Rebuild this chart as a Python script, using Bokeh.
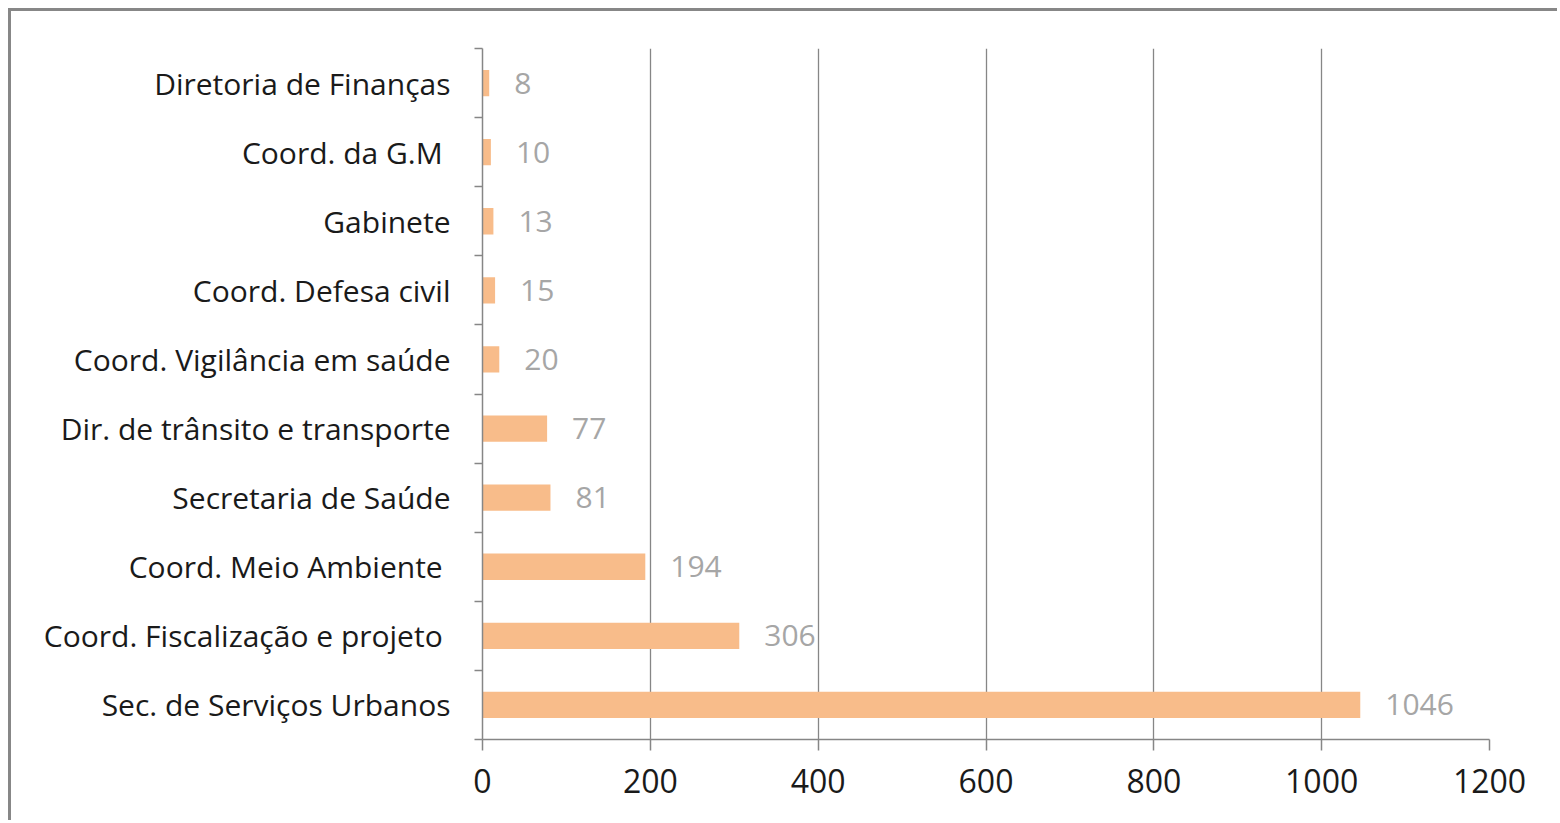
from bokeh.plotting import figure
from bokeh.models import Range1d, FixedTicker, ColumnDataSource
from bokeh.embed import file_html
from bokeh.resources import INLINE
from bokeh.core.properties import value

categories = ["Sec. de Serviços Urbanos", "Coord. Fiscalização  e projeto", "Coord. Meio Ambiente ",
              "Secretaria de Saúde", "Dir. de trânsito e transporte", "Coord. Vigilância em saúde",
              "Coord. Defesa civil", "Gabinete", "Coord. da G.M ", "Diretoria de Finanças"]
values = [1046, 306, 194, 81, 77, 20, 15, 13, 10, 8]
x_ticks = [0, 200, 400, 600, 800, 1000, 1200]

n = len(categories)
ypos = [i + 0.5 for i in range(n)]
src = ColumnDataSource(dict(y=ypos, v=values, lab=[str(v) for v in values]))

off = 11  # border offset
p = figure(width=1560 - off, height=823 - off, output_backend="svg", toolbar_location=None,
           x_range=Range1d(0, 1200), y_range=Range1d(0, n),
           min_border_left=482 - off, min_border_right=71, min_border_top=48 - off, min_border_bottom=84)
p.styles = {"border-top": "3px solid #878787", "border-left": "3px solid #878787",
            "margin-top": "8px", "margin-left": "8px"}
p.outline_line_color = None
p.background_fill_color = "white"
p.border_fill_color = "white"

p.hbar(y="y", right="v", left=0, height=0.38, source=src, color="#F8BC8A", line_color=None)
p.text(x="v", y="y", text="lab", source=src, x_offset=25, text_align="left", text_baseline="middle",
       text_color="#A6A6A6", text_font=value("Open Sans"), text_font_size="30px")

# x axis
xa = p.xaxis[0]
xa.ticker = FixedTicker(ticks=x_ticks)
xa.axis_line_color = "#868686"
xa.axis_line_width = 1.5
xa.major_tick_line_color = "#868686"
xa.major_tick_line_width = 1.5
xa.major_tick_out = 11
xa.major_tick_in = 0
xa.minor_tick_line_color = None
xa.major_label_text_font = "Open Sans"
xa.major_label_text_font_size = "32px"
xa.major_label_text_color = "#1a1a1a"
xa.major_label_standoff = 18

# y axis
ya = p.yaxis[0]
ya.ticker = FixedTicker(ticks=ypos, minor_ticks=list(range(n + 1)))
ya.major_label_overrides = {y: c for y, c in zip(ypos, categories)}
ya.axis_line_color = "#868686"
ya.axis_line_width = 1.5
ya.major_tick_line_color = None
ya.major_tick_out = 0
ya.major_tick_in = 0
ya.minor_tick_line_color = "#868686"
ya.minor_tick_line_width = 1.5
ya.minor_tick_out = 8
ya.minor_tick_in = 0
ya.major_label_text_font = "Open Sans"
ya.major_label_text_font_size = "30px"
ya.major_label_text_color = "#1a1a1a"
ya.major_label_standoff = 24

p.xgrid.grid_line_color = "#868686"
p.xgrid.grid_line_width = 1.3
p.xgrid.ticker = FixedTicker(ticks=x_ticks)
p.ygrid.grid_line_color = None

open("out.html", "w").write(file_html(p, INLINE))
